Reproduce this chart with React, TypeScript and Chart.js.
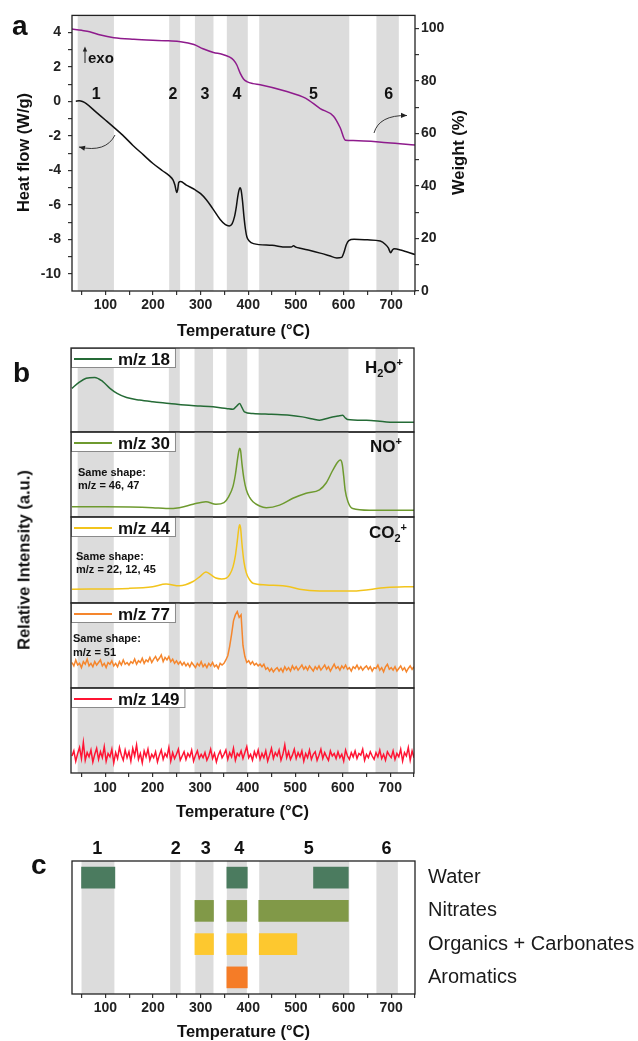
import React, { useEffect, useRef } from 'react';
import { Chart, registerables } from 'chart.js';

Chart.register(...registerables);

const FONT = '"Liberation Sans", Arial, Helvetica, sans-serif';

// ---------------- shared temperature axis ----------------
const tempTicks = [50, 100, 150, 200, 250, 300, 350, 400, 450, 500, 550, 600, 650, 700, 750];

// decomposition stages (°C)
const bandStart = [42, 234, 288, 355, 423, 669];
const bandEnd = [118, 257, 327, 399, 612, 716];
const bandLabels = ['1', '2', '3', '4', '5', '6'];
const bandLabelTempA = [81, 242, 309, 376, 537, 695];
const bandStartC = [50, 236, 289, 355, 423, 669];
const bandEndC = [119, 258, 327, 397, 612, 714];
const bandLabelTempC = [83, 248, 311, 381, 527, 690];

// ---------------- panel a : DSC / TGA ----------------
const heatFlowTicks = [-10, -9, -8, -7, -6, -5, -4, -3, -2, -1, 0, 1, 2, 3, 4];
const weightTicks = [0, 10, 20, 30, 40, 50, 60, 70, 80, 90, 100];

const heatFlowT = [38, 45, 52, 60, 80, 100, 118, 140, 158, 180, 200, 220, 234, 242, 246, 250, 252, 254, 258, 270, 288, 300, 312, 325, 341, 352, 360, 366, 371, 375, 378, 381, 383, 385, 388, 391, 394, 397, 402, 411, 450, 480, 490, 495, 500, 509, 530, 551, 570, 586, 596, 601, 606, 611, 622, 650, 677, 688, 694, 699, 703, 707, 720, 750];
const heatFlowV = [0.02, 0.04, 0.0, -0.12, -0.6, -1.07, -1.5, -2.05, -2.55, -3.1, -3.6, -4.02, -4.3, -4.55, -4.85, -5.28, -5.1, -4.7, -4.65, -4.85, -5.12, -5.35, -5.7, -6.2, -6.85, -7.15, -7.22, -7.1, -6.7, -6.1, -5.5, -5.1, -5.0, -5.15, -5.8, -6.7, -7.4, -7.85, -8.1, -8.25, -8.35, -8.45, -8.45, -8.38, -8.45, -8.52, -8.65, -8.8, -8.95, -9.08, -9.05, -8.75, -8.3, -8.07, -8.0, -8.03, -8.1, -8.3, -8.5, -8.78, -8.6, -8.55, -8.62, -8.88];

const weightT = [30, 50, 67, 90, 118, 160, 232, 258, 286, 305, 327, 345, 360, 369, 376, 383, 390, 397, 410, 425, 481, 520, 551, 579, 593, 604, 620, 692, 750];
const weightV = [99.8, 99.3, 98.8, 97.5, 96.5, 95.9, 95.3, 95.0, 93.9, 92.3, 90.9, 90.2, 89.2, 88.0, 86.1, 83.0, 80.8, 79.8, 79.0, 78.6, 76.0, 73.5, 69.5, 66.6, 62.2, 57.4, 57.3, 56.5, 55.6];

// ---------------- panel b : MS signals (normalised) ----------------
const mz18T = [30, 45, 60, 78, 95, 110, 125, 145, 172, 200, 235, 268, 300, 327, 355, 369, 377, 383, 388, 393, 411, 450, 488, 515, 537, 551, 572, 590, 600, 605, 610, 650, 692, 750];
const mz18V = [0.52, 0.59, 0.64, 0.65, 0.60, 0.52, 0.46, 0.41, 0.38, 0.36, 0.34, 0.32, 0.31, 0.30, 0.28, 0.27, 0.31, 0.34, 0.29, 0.24, 0.22, 0.21, 0.20, 0.18, 0.155, 0.14, 0.17, 0.19, 0.20, 0.17, 0.15, 0.14, 0.12, 0.115];

const mz30T = [30, 100, 200, 228, 256, 285, 312, 333, 350, 360, 369, 374, 378, 381, 383, 385, 388, 392, 397, 404, 411, 425, 439, 467, 495, 523, 551, 565, 579, 590, 595, 599, 602, 605, 611, 621, 656, 750];
const mz30V = [0.12, 0.12, 0.11, 0.10, 0.11, 0.15, 0.18, 0.15, 0.17, 0.24, 0.36, 0.50, 0.66, 0.77, 0.81, 0.78, 0.62, 0.45, 0.32, 0.23, 0.18, 0.13, 0.11, 0.14, 0.22, 0.28, 0.32, 0.40, 0.55, 0.65, 0.67, 0.62, 0.48, 0.32, 0.18, 0.10, 0.08, 0.08];

const mz44T = [30, 150, 200, 228, 256, 285, 300, 312, 322, 333, 345, 355, 362, 369, 374, 378, 381, 383, 385, 388, 392, 397, 404, 411, 439, 488, 509, 551, 621, 692, 750];
const mz44V = [0.16, 0.17, 0.19, 0.22, 0.20, 0.25, 0.31, 0.36, 0.33, 0.29, 0.28, 0.29, 0.33, 0.42, 0.55, 0.72, 0.86, 0.91, 0.87, 0.68, 0.48, 0.35, 0.27, 0.23, 0.21, 0.19, 0.16, 0.14, 0.14, 0.18, 0.19];

// noisy signals sampled every 4 °C from 30 °C
const noisyStartT = 30;
const noisyStepT = 4;
const mz77V = [
  0.30, 0.26, 0.33, 0.27, 0.29, 0.24, 0.31, 0.28, 0.34, 0.26,
  0.29, 0.25, 0.31, 0.27, 0.30, 0.33, 0.26, 0.29, 0.24, 0.30,
  0.28, 0.32, 0.26, 0.29, 0.25, 0.31, 0.27, 0.33, 0.28, 0.30,
  0.27, 0.31, 0.29, 0.34, 0.28, 0.32, 0.30, 0.35, 0.29, 0.33,
  0.31, 0.36, 0.30, 0.34, 0.37, 0.32, 0.35, 0.39, 0.31, 0.36,
  0.33, 0.37, 0.31, 0.34, 0.29, 0.32, 0.28, 0.31, 0.27, 0.30,
  0.26, 0.29, 0.25, 0.30, 0.27, 0.24, 0.29, 0.26, 0.31, 0.25,
  0.28, 0.24, 0.29, 0.26, 0.30, 0.25, 0.27, 0.23, 0.29, 0.27,
  0.29, 0.33, 0.38, 0.49, 0.63, 0.79, 0.86, 0.90, 0.83, 0.86,
  0.50, 0.37, 0.30, 0.32, 0.28, 0.31, 0.27, 0.29, 0.26, 0.28,
  0.25, 0.28, 0.22, 0.24, 0.20, 0.23, 0.19, 0.22, 0.24, 0.20,
  0.23, 0.19, 0.25, 0.21, 0.24, 0.20, 0.26, 0.22, 0.25, 0.21,
  0.24, 0.27, 0.22, 0.25, 0.21, 0.26, 0.23, 0.20, 0.25, 0.22,
  0.26, 0.21, 0.24, 0.27, 0.22, 0.25, 0.20, 0.24, 0.28, 0.23,
  0.25, 0.21, 0.26, 0.23, 0.27, 0.22, 0.24, 0.20, 0.25, 0.23,
  0.27, 0.22, 0.25, 0.21, 0.24, 0.26, 0.22, 0.25, 0.20, 0.24,
  0.23, 0.27, 0.21, 0.24, 0.19, 0.25, 0.28, 0.22, 0.24, 0.21,
  0.25, 0.20, 0.23, 0.26, 0.21, 0.24, 0.19, 0.23, 0.26, 0.22, 0.25,
];
const mz149V = [
  0.20, 0.26, 0.14, 0.23, 0.30, 0.17, 0.36, 0.15, 0.24, 0.19,
  0.27, 0.13, 0.22, 0.29, 0.16, 0.25, 0.18, 0.31, 0.14, 0.23,
  0.19, 0.28, 0.12, 0.24, 0.17, 0.30, 0.21, 0.15, 0.27, 0.18,
  0.25, 0.14, 0.29, 0.20, 0.33, 0.16, 0.23, 0.12, 0.26, 0.19,
  0.28, 0.15, 0.22, 0.18, 0.25, 0.13, 0.21, 0.27, 0.16, 0.23,
  0.19, 0.30, 0.14, 0.24, 0.17, 0.22, 0.28, 0.15, 0.20, 0.25,
  0.16, 0.23, 0.19, 0.27, 0.14, 0.21, 0.26, 0.17, 0.22, 0.18,
  0.24, 0.15, 0.20, 0.28, 0.17, 0.23, 0.13, 0.21, 0.26, 0.18,
  0.22, 0.27, 0.16, 0.24, 0.19, 0.29, 0.15, 0.23, 0.20, 0.26,
  0.17, 0.24, 0.31, 0.18, 0.22, 0.15, 0.25, 0.19, 0.27, 0.16,
  0.23, 0.18, 0.26, 0.14, 0.21, 0.29, 0.17, 0.24, 0.20, 0.27,
  0.15, 0.22, 0.33, 0.18, 0.25, 0.16, 0.21, 0.28, 0.17, 0.24,
  0.19, 0.26, 0.14, 0.23, 0.18, 0.27, 0.16, 0.22, 0.25, 0.15,
  0.21, 0.28, 0.17, 0.24, 0.19, 0.15, 0.26, 0.20, 0.23, 0.17,
  0.25, 0.18, 0.22, 0.14, 0.27, 0.20, 0.16, 0.24, 0.19, 0.26,
  0.17, 0.23, 0.21, 0.28, 0.15, 0.22, 0.18, 0.25, 0.20, 0.16,
  0.24, 0.19, 0.27, 0.17, 0.22, 0.15, 0.25, 0.21, 0.18, 0.26,
  0.16, 0.23, 0.19, 0.28, 0.14, 0.24, 0.20, 0.30, 0.15, 0.26, 0.18,
];

// ---------------- panel c : assignment of stages ----------------
const species = ['Water', 'Nitrates', 'Organics + Carbonates', 'Aromatics'];
const waterRanges = [[50, 120], [355, 398], [537, 610]];
const nitrateRanges = [[288, 327], [355, 397], [422, 610]];
const organicRanges = [[288, 327], [355, 397], [423, 502]];
const aromaticRanges = [[355, 398]];

// ---------------- styling ----------------
const BAND_GRAY = '#dcdcdc';
const FRAME = '#222';
const speciesColors = ['#4b7b5f', '#819948', '#fdc82f', '#f57c27'];

const tickFont = { family: FONT, size: 14, weight: 'bold' as const };

function tempAxis(min: number, max: number, height: number, padding: number) {
  return {
    type: 'linear',
    min,
    max,
    afterBuildTicks: (s: any) => {
      s.ticks = tempTicks.map((v) => ({ value: v }));
    },
    afterFit: (s: any) => {
      s.height = height;
    },
    ticks: {
      callback: (v: any) => (Number(v) % 100 === 0 ? String(v) : ''),
      font: tickFont,
      color: '#222',
      padding,
      autoSkip: false,
      maxRotation: 0,
    },
    grid: { drawOnChartArea: false, drawTicks: true, tickLength: 4, color: '#333', lineWidth: 1.2 },
    border: { display: false },
  };
}

function text(ctx: CanvasRenderingContext2D, s: string, x: number, y: number, font: string, align: CanvasTextAlign = 'center', baseline: CanvasTextBaseline = 'alphabetic', rotate = 0, color = '#111') {
  ctx.save();
  ctx.translate(x, y);
  if (rotate) ctx.rotate(rotate);
  ctx.font = font;
  ctx.textAlign = align;
  ctx.textBaseline = baseline;
  ctx.fillStyle = color;
  ctx.fillText(s, 0, 0);
  ctx.restore();
}

function arrowHead(ctx: CanvasRenderingContext2D, x: number, y: number, ang: number, len = 6, half = 2.6) {
  const dx = Math.cos(ang), dy = Math.sin(ang);
  ctx.beginPath();
  ctx.moveTo(x, y);
  ctx.lineTo(x - dx * len - dy * half, y - dy * len + dx * half);
  ctx.lineTo(x - dx * len + dy * half, y - dy * len - dx * half);
  ctx.closePath();
  ctx.fill();
}

function curvedArrow(ctx: CanvasRenderingContext2D, x0: number, y0: number, cx: number, cy: number, x1: number, y1: number) {
  ctx.beginPath();
  ctx.moveTo(x0, y0);
  ctx.quadraticCurveTo(cx, cy, x1, y1);
  ctx.stroke();
  arrowHead(ctx, x1, y1, Math.atan2(y1 - cy, x1 - cx));
}

function bandsPlugin(starts: number[], ends: number[]) {
  return {
    id: 'bands',
    beforeDatasetsDraw(chart: any) {
      const { ctx, chartArea } = chart;
      const x = chart.scales.x;
      ctx.save();
      ctx.fillStyle = BAND_GRAY;
      starts.forEach((s, i) => {
        const a = x.getPixelForValue(s);
        const b = x.getPixelForValue(ends[i]);
        ctx.fillRect(a, chartArea.top, b - a, chartArea.bottom - chartArea.top);
      });
      ctx.restore();
    },
  };
}

function frame(chart: any) {
  const { ctx, chartArea } = chart;
  ctx.save();
  ctx.strokeStyle = FRAME;
  ctx.lineWidth = 1.3;
  ctx.strokeRect(chartArea.left, chartArea.top, chartArea.right - chartArea.left, chartArea.bottom - chartArea.top);
  ctx.restore();
}

const pts = (t: number[], v: number[]) => t.map((x, i) => ({ x, y: v[i] }));
const noisyPts = (v: number[]) => v.map((y, i) => ({ x: noisyStartT + i * noisyStepT, y }));

// ---------------- panel a ----------------
function makePanelA(): any {
  return {
    type: 'line',
    data: {
      datasets: [
        { label: 'Heat flow', data: pts(heatFlowT, heatFlowV), yAxisID: 'y', borderColor: '#111', borderWidth: 1.5, pointRadius: 0, cubicInterpolationMode: 'monotone' },
        { label: 'Weight', data: pts(weightT, weightV), yAxisID: 'y2', borderColor: '#8e1b8c', borderWidth: 1.5, pointRadius: 0, cubicInterpolationMode: 'monotone' },
      ],
    },
    options: {
      responsive: false,
      animation: false,
      devicePixelRatio: 1,
      events: [],
      layout: { padding: { top: 14, left: 0, right: 0, bottom: 0 } },
      plugins: { legend: { display: false }, tooltip: { enabled: false } },
      scales: {
        x: tempAxis(30, 750, 49, 2),
        y: {
          type: 'linear',
          position: 'left',
          min: -11,
          max: 5,
          afterBuildTicks: (s: any) => {
            s.ticks = heatFlowTicks.map((v) => ({ value: v }));
          },
          afterFit: (s: any) => {
            s.width = 72;
          },
          ticks: { callback: (v: any) => (Number(v) % 2 === 0 ? String(v) : ''), font: tickFont, color: '#222', padding: 7, autoSkip: false },
          grid: { drawOnChartArea: false, drawTicks: true, tickLength: 4, color: '#333', lineWidth: 1.2 },
          border: { display: false },
        },
        y2: {
          type: 'linear',
          position: 'right',
          min: 0,
          max: 105,
          afterBuildTicks: (s: any) => {
            s.ticks = weightTicks.map((v) => ({ value: v }));
          },
          afterFit: (s: any) => {
            s.width = 223;
          },
          ticks: { callback: (v: any) => (Number(v) % 20 === 0 ? String(v) : ''), font: tickFont, color: '#222', padding: 2, autoSkip: false },
          grid: { drawOnChartArea: false, drawTicks: true, tickLength: 4, color: '#333', lineWidth: 1.2 },
          border: { display: false },
        },
      },
    },
    plugins: [
      bandsPlugin(bandStart, bandEnd),
      {
        id: 'decorA',
        afterDraw(chart: any) {
          const ctx = chart.ctx as CanvasRenderingContext2D;
          const x = chart.scales.x;
          frame(chart);
          bandLabels.forEach((b, i) => text(ctx, b, x.getPixelForValue(bandLabelTempA[i]), 98.5, `bold 16px ${FONT}`));
          // exo marker
          ctx.save();
          ctx.strokeStyle = '#222';
          ctx.fillStyle = '#222';
          ctx.lineWidth = 1;
          ctx.beginPath();
          ctx.moveTo(85, 63);
          ctx.lineTo(85, 50);
          ctx.stroke();
          arrowHead(ctx, 85, 46.5, -Math.PI / 2, 5, 2.2);
          ctx.lineWidth = 0.9;
          curvedArrow(ctx, 115, 135, 106, 153, 79, 147);
          curvedArrow(ctx, 374, 133, 379, 115, 407, 115.5);
          ctx.restore();
          text(ctx, 'exo', 88, 63, `bold 15px ${FONT}`, 'left');
          // titles
          text(ctx, 'Heat flow (W/g)', 24, 152.5, `bold 16.5px ${FONT}`, 'center', 'middle', -Math.PI / 2);
          text(ctx, 'Weight (%)', 459, 152.5, `bold 16.5px ${FONT}`, 'center', 'middle', -Math.PI / 2);
          text(ctx, 'Temperature (°C)', 243.5, 331, `bold 16.5px ${FONT}`, 'center', 'middle');
          text(ctx, 'a', 12, 35, `bold 28px ${FONT}`, 'left');
        },
      },
    ],
  };
}

// ---------------- panel b ----------------
type Seg = { t: string; v?: 'sub' | 'sup' };

const subPanels: any[] = [
  { top: 348, bottom: 432, name: 'm/z 18', color: '#256b36', data: () => pts(mz18T, mz18V), smooth: true,
    chem: [{ t: 'H' }, { t: '2', v: 'sub' }, { t: 'O' }, { t: '+', v: 'sup' }], chemRight: 403, chemBase: 372.5, notes: [] as string[], noteX: 0, noteY: [] as number[] },
  { top: 432, bottom: 517, name: 'm/z 30', color: '#6e9a2f', data: () => pts(mz30T, mz30V), smooth: true,
    chem: [{ t: 'N' }, { t: 'O' }, { t: '+', v: 'sup' }], chemRight: 402, chemBase: 451.5, notes: ['Same shape:', 'm/z = 46, 47'], noteX: 78, noteY: [476, 489] },
  { top: 517, bottom: 603, name: 'm/z 44', color: '#f2c41c', data: () => pts(mz44T, mz44V), smooth: true,
    chem: [{ t: 'C' }, { t: 'O' }, { t: '2', v: 'sub' }, { t: '+', v: 'sup' }], chemRight: 407, chemBase: 538, notes: ['Same shape:', 'm/z = 22, 12, 45'], noteX: 76, noteY: [560, 573] },
  { top: 603, bottom: 688, name: 'm/z 77', color: '#f5862d', data: () => noisyPts(mz77V), smooth: false,
    chem: [], chemRight: 0, chemBase: 0, notes: ['Same shape:', 'm/z = 51'], noteX: 73, noteY: [641.5, 655.5] },
  { top: 688, bottom: 773, name: 'm/z 149', color: '#ff1433', data: () => noisyPts(mz149V), smooth: false,
    chem: [], chemRight: 0, chemBase: 0, notes: [], noteX: 0, noteY: [] },
];

function drawChem(ctx: CanvasRenderingContext2D, segs: Seg[], right: number, base: number) {
  const big = `bold 17px ${FONT}`;
  const small = `bold 11px ${FONT}`;
  let total = 0;
  segs.forEach((s) => {
    ctx.font = s.v ? small : big;
    total += ctx.measureText(s.t).width;
  });
  let x = right - total;
  ctx.textAlign = 'left';
  ctx.textBaseline = 'alphabetic';
  ctx.fillStyle = '#111';
  segs.forEach((s) => {
    ctx.font = s.v ? small : big;
    const dy = s.v === 'sub' ? 4 : s.v === 'sup' ? -7 : 0;
    ctx.fillText(s.t, x, base + dy);
    x += ctx.measureText(s.t).width;
  });
}

const SUB_X_HEIGHT = 50;

function subCanvasHeight(i: number) {
  const s = subPanels[i];
  return s.bottom - s.top + 2 + (i === subPanels.length - 1 ? SUB_X_HEIGHT : 2);
}

function makeSub(i: number): any {
  const s = subPanels[i];
  const last = i === subPanels.length - 1;
  const cTop = s.top - 2;
  return {
    type: 'line',
    data: {
      datasets: [
        {
          label: s.name,
          data: s.data(),
          borderColor: s.color,
          borderWidth: 1.5,
          pointRadius: 0,
          cubicInterpolationMode: s.smooth ? 'monotone' : 'default',
          tension: 0,
        },
      ],
    },
    options: {
      responsive: false,
      animation: false,
      devicePixelRatio: 1,
      events: [],
      layout: { padding: { left: 71, right: 224, top: 2, bottom: last ? 0 : 2 } },
      plugins: { legend: { display: false }, tooltip: { enabled: false } },
      scales: {
        x: last ? tempAxis(28, 750, SUB_X_HEIGHT, 3) : { type: 'linear', min: 28, max: 750, display: false },
        y: { type: 'linear', min: 0, max: 1, display: false },
      },
    },
    plugins: [
      bandsPlugin(bandStart, bandEnd),
      {
        id: 'decorB' + i,
        afterDraw(chart: any) {
          const ctx = chart.ctx as CanvasRenderingContext2D;
          const { left, top } = chart.chartArea;
          // legend box
          ctx.save();
          ctx.font = `bold 17px ${FONT}`;
          const w = 47 + ctx.measureText(s.name).width + 6;
          ctx.fillStyle = '#fff';
          ctx.fillRect(left, top, w, 20);
          ctx.strokeStyle = '#8a8a8a';
          ctx.lineWidth = 1;
          ctx.strokeRect(left + 0.5, top + 0.5, w - 1, 19);
          ctx.strokeStyle = s.color;
          ctx.lineWidth = 2;
          ctx.beginPath();
          ctx.moveTo(left + 3, top + 11);
          ctx.lineTo(left + 41, top + 11);
          ctx.stroke();
          ctx.restore();
          text(ctx, s.name, left + 47, top + 16.5, `bold 17px ${FONT}`, 'left');
          frame(chart);
          // page-coordinate annotations
          ctx.save();
          ctx.translate(0, -cTop);
          if (s.chem.length) drawChem(ctx, s.chem, s.chemRight, s.chemBase);
          s.notes.forEach((n: string, k: number) => text(ctx, n, s.noteX, s.noteY[k], `bold 11px ${FONT}`, 'left'));
          if (i === 0) text(ctx, 'b', 13, 381.5, `bold 28px ${FONT}`, 'left');
          if (last) text(ctx, 'Temperature (°C)', 242.5, 812, `bold 16.5px ${FONT}`, 'center', 'middle');
          ctx.restore();
        },
      },
    ],
  };
}

// ---------------- panel c ----------------
function makePanelC(): any {
  const cTop = 835;
  const rangeSets = [0, 1, 2].map((k) => [waterRanges[k] ?? null, nitrateRanges[k] ?? null, organicRanges[k] ?? null, aromaticRanges[k] ?? null]);
  return {
    type: 'bar',
    data: {
      labels: species,
      datasets: rangeSets.map((d, k) => ({
        label: 'segment ' + (k + 1),
        data: d,
        backgroundColor: speciesColors,
        borderWidth: 0,
        barThickness: 21,
        grouped: false,
      })),
    },
    options: {
      indexAxis: 'y',
      responsive: false,
      animation: false,
      devicePixelRatio: 1,
      events: [],
      layout: { padding: { top: 26, left: 72, right: 0, bottom: 0 } },
      plugins: { legend: { display: false }, tooltip: { enabled: false } },
      scales: {
        x: tempAxis(30, 750, 47, 2),
        y: {
          type: 'category',
          position: 'right',
          afterFit: (s: any) => {
            s.width = 223;
          },
          ticks: { font: { family: FONT, size: 20 }, color: '#1a1a1a', padding: 13, autoSkip: false },
          grid: { display: false, drawTicks: false },
          border: { display: false },
        },
      },
    },
    plugins: [
      bandsPlugin(bandStartC, bandEndC),
      {
        id: 'decorC',
        afterDraw(chart: any) {
          const ctx = chart.ctx as CanvasRenderingContext2D;
          const x = chart.scales.x;
          frame(chart);
          bandLabels.forEach((b, i) => text(ctx, b, x.getPixelForValue(bandLabelTempC[i]), 853.5 - cTop, `bold 18px ${FONT}`));
          text(ctx, 'c', 31, 873.5 - cTop, `bold 28px ${FONT}`, 'left');
          text(ctx, 'Temperature (°C)', 243.5, 1032 - cTop, `bold 16.5px ${FONT}`, 'center', 'middle');
        },
      },
    ],
  };
}

function ChartCanvas({ top, height, make }: { top: number; height: number; make: () => any }) {
  const ref = useRef<HTMLCanvasElement | null>(null);
  useEffect(() => {
    if (!ref.current) return;
    const chart = new Chart(ref.current, make());
    return () => chart.destroy();
  }, []);
  return (
    <canvas
      ref={ref}
      width={638}
      height={height}
      style={{ position: 'absolute', left: 0, top, width: 638, height, display: 'block' }}
    />
  );
}

export default function App() {
  return (
    <div style={{ position: 'absolute', left: 0, top: 0, width: 638, height: 1041, background: '#fff', overflow: 'hidden' }}>
      <ChartCanvas top={0} height={340} make={makePanelA} />
      {subPanels.map((s, i) => (
        <ChartCanvas key={i} top={s.top - 2} height={subCanvasHeight(i)} make={() => makeSub(i)} />
      ))}
      <div
        style={{
          position: 'absolute',
          left: 24,
          top: 560,
          transform: 'translate(-50%, -50%) rotate(-90deg)',
          font: `bold 16.5px ${FONT}`,
          whiteSpace: 'nowrap',
          color: '#111',
        }}
      >
        Relative Intensity (a.u.)
      </div>
      <ChartCanvas top={835} height={206} make={makePanelC} />
    </div>
  );
}
